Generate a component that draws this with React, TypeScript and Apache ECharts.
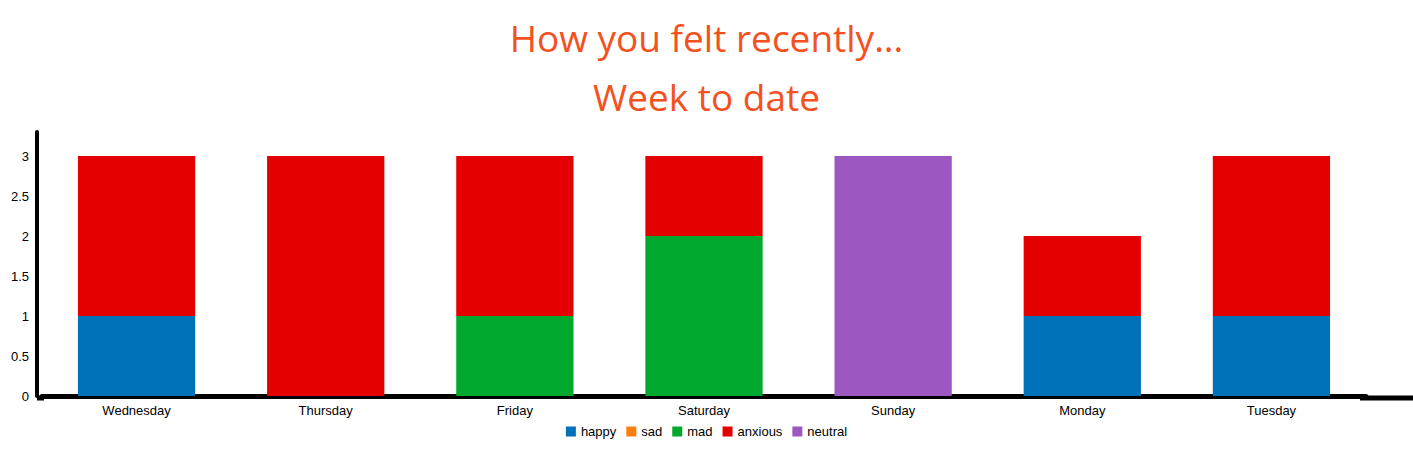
import React, { useEffect, useRef } from "react";
import * as echarts from "echarts";

const categories = ["Wednesday", "Thursday", "Friday", "Saturday", "Sunday", "Monday", "Tuesday"];
const happy = [1, 0, 0, 0, 0, 1, 1];
const sad = [0, 0, 0, 0, 0, 0, 0];
const mad = [0, 0, 1, 2, 0, 0, 0];
const anxious = [2, 3, 2, 1, 0, 1, 2];
const neutral = [0, 0, 0, 0, 3, 0, 0];
const seriesNames = ["happy", "sad", "mad", "anxious", "neutral"];
const seriesData = [happy, sad, mad, anxious, neutral];
const colors = ["#0072b9", "#ff7f0e", "#00a82d", "#e50000", "#9d57c0"];

export default function App() {
  const ref = useRef<HTMLDivElement>(null);
  useEffect(() => {
    document.body.style.margin = "0";
    const chart = echarts.init(ref.current!, null, { renderer: "svg" });
    chart.setOption({
      animation: false,
      color: colors,
      title: [
        { text: "How you felt recently...", left: "center", top: 14, textStyle: { color: "#f4511e", fontSize: 37, fontWeight: "normal", fontFamily: "Open Sans" } },
        { text: "Week to date", left: "center", top: 73, textStyle: { color: "#f4511e", fontSize: 37, fontWeight: "normal", fontFamily: "Open Sans" } },
      ],
      legend: {
        bottom: 23, left: "center", itemWidth: 10, itemHeight: 10, icon: "rect", itemGap: 10,
        textStyle: { fontSize: 13, color: "#000", fontFamily: "Liberation Sans" },
      },
      grid: { left: 42, right: 47, top: 132, bottom: 70 },
      graphic: [
        { type: "line", shape: { x1: 1360, y1: 398, x2: 1413, y2: 398 }, style: { stroke: "#000", lineWidth: 5 } },
        { type: "line", shape: { x1: 37, y1: 398, x2: 44, y2: 398 }, style: { stroke: "#000", lineWidth: 5 } },
      ],
      xAxis: {
        type: "category", data: categories,
        axisLine: { lineStyle: { color: "#000", width: 5 } },
        axisTick: { show: false },
        axisLabel: { color: "#000", fontSize: 13, fontFamily: "Liberation Sans", margin: 8 },
      },
      yAxis: {
        type: "value", min: 0, max: 3.3, interval: 0.5, offset: 5,
        axisLine: { show: true, lineStyle: { color: "#000", width: 4 } },
        axisTick: { show: false },
        splitLine: { show: false },
        axisLabel: { color: "#000", fontSize: 13, fontFamily: "Liberation Sans", margin: 8, showMaxLabel: false },
      },
      series: seriesNames.map((n, i) => ({
        name: n, type: "bar", stack: "all", barWidth: "62%", data: seriesData[i],
      })),
    });
    return () => chart.dispose();
  }, []);
  return <div ref={ref} style={{ width: 1413, height: 466 }} />;
}
